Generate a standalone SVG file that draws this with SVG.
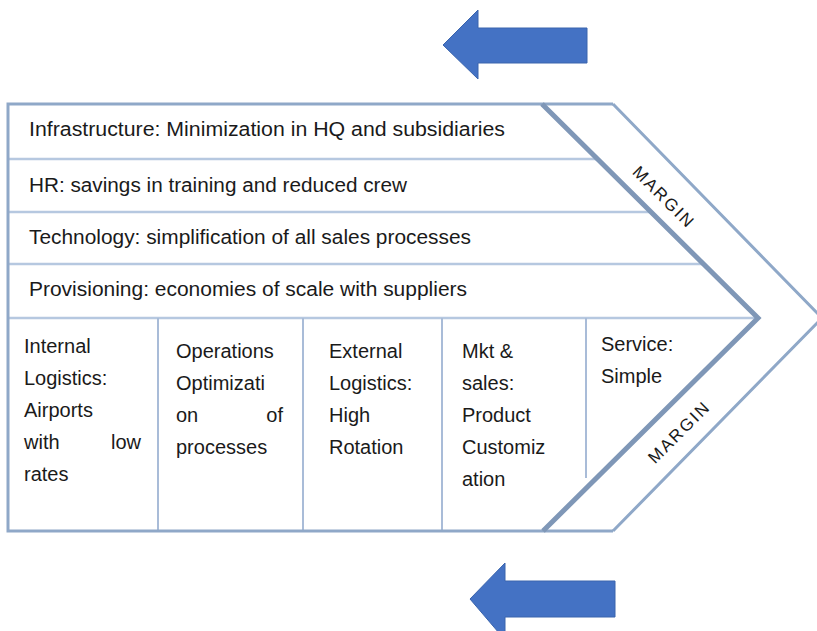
<svg xmlns="http://www.w3.org/2000/svg" width="817" height="631" viewBox="0 0 817 631">
<style>
.t{font-family:"Liberation Sans",Arial,sans-serif;font-size:19.5px;fill:#1a1a1a}
.c{font-family:"Liberation Sans",Arial,sans-serif;font-size:20px;fill:#1a1a1a}
.m{font-family:"Liberation Sans",Arial,sans-serif;font-size:17px;letter-spacing:2px;fill:#1a1a1a}
.frame{fill:none;stroke:#8fa8c8;stroke-width:3}
.inner{fill:none;stroke:#7f97b7;stroke-width:5;stroke-linejoin:miter}
.row{stroke:#b6c8e0;stroke-width:2.5}
.col{stroke:#a9bcd8;stroke-width:2}
.arrow{fill:#4472c4;stroke:#3a64ad;stroke-width:1}
</style>
<rect width="817" height="631" fill="#ffffff"/>
<g id="arrow-top"><polygon class="arrow" points="443,45 478,10 478,28 587,28 587,63 478,63 478,79"/></g>
<g id="arrow-bottom"><polygon class="arrow" points="470,599 505,563 505,581 615,581 615,617 505,617 505,640"/></g>
<g id="connectors">
<line class="row" x1="9" y1="159" x2="597" y2="159"/>
<line class="row" x1="9" y1="212" x2="650" y2="212"/>
<line class="row" x1="9" y1="264" x2="702" y2="264"/>
<line class="row" x1="9" y1="318" x2="756" y2="318"/>
<line class="col" x1="158" y1="318" x2="158" y2="531"/>
<line class="col" x1="303" y1="318" x2="303" y2="531"/>
<line class="col" x1="442" y1="318" x2="442" y2="531"/>
<line class="col" x1="586" y1="318" x2="586" y2="478"/>
<polyline class="frame" points="613,104 8,104 8,531 613,531"/>
<polyline class="frame" points="613,104 822,318 613,531"/>
<polyline class="inner" points="542,104 758,318 543,531"/>
</g>
<g id="infrastructure"><text class="t" x="29" y="136" textLength="476" lengthAdjust="spacingAndGlyphs">Infrastructure: Minimization in HQ and subsidiaries</text></g>
<g id="hr"><text class="t" x="29" y="192" textLength="378" lengthAdjust="spacingAndGlyphs">HR: savings in training and reduced crew</text></g>
<g id="technology"><text class="t" x="29" y="244" textLength="442" lengthAdjust="spacingAndGlyphs">Technology: simplification of all sales processes</text></g>
<g id="provisioning"><text class="t" x="29" y="296" textLength="438" lengthAdjust="spacingAndGlyphs">Provisioning: economies of scale with suppliers</text></g>
<g id="internal-logistics">
<text class="c" x="24" y="353">Internal</text>
<text class="c" x="24" y="385">Logistics:</text>
<text class="c" x="24" y="417">Airports</text>
<text class="c" x="24" y="449">with</text><text class="c" x="141" y="449" text-anchor="end">low</text>
<text class="c" x="24" y="481">rates</text>
</g>
<g id="operations">
<text class="c" x="176" y="358">Operations</text>
<text class="c" x="176" y="390">Optimizati</text>
<text class="c" x="176" y="422">on</text><text class="c" x="283" y="422" text-anchor="end">of</text>
<text class="c" x="176" y="454">processes</text>
</g>
<g id="external-logistics">
<text class="c" x="329" y="358">External</text>
<text class="c" x="329" y="390">Logistics:</text>
<text class="c" x="329" y="422">High</text>
<text class="c" x="329" y="454">Rotation</text>
</g>
<g id="mkt-sales">
<text class="c" x="462" y="358">Mkt &amp;</text>
<text class="c" x="462" y="390">sales:</text>
<text class="c" x="462" y="422">Product</text>
<text class="c" x="462" y="454">Customiz</text>
<text class="c" x="462" y="486">ation</text>
</g>
<g id="service">
<text class="c" x="601" y="351">Service:</text>
<text class="c" x="601" y="383">Simple</text>
</g>
<g id="margin-top"><text class="m" x="0" y="0" text-anchor="middle" transform="translate(664,197) rotate(45) translate(0,6)">MARGIN</text></g>
<g id="margin-bottom"><text class="m" x="0" y="0" text-anchor="middle" transform="translate(679,432) rotate(-45) translate(0,6)">MARGIN</text></g>
</svg>
